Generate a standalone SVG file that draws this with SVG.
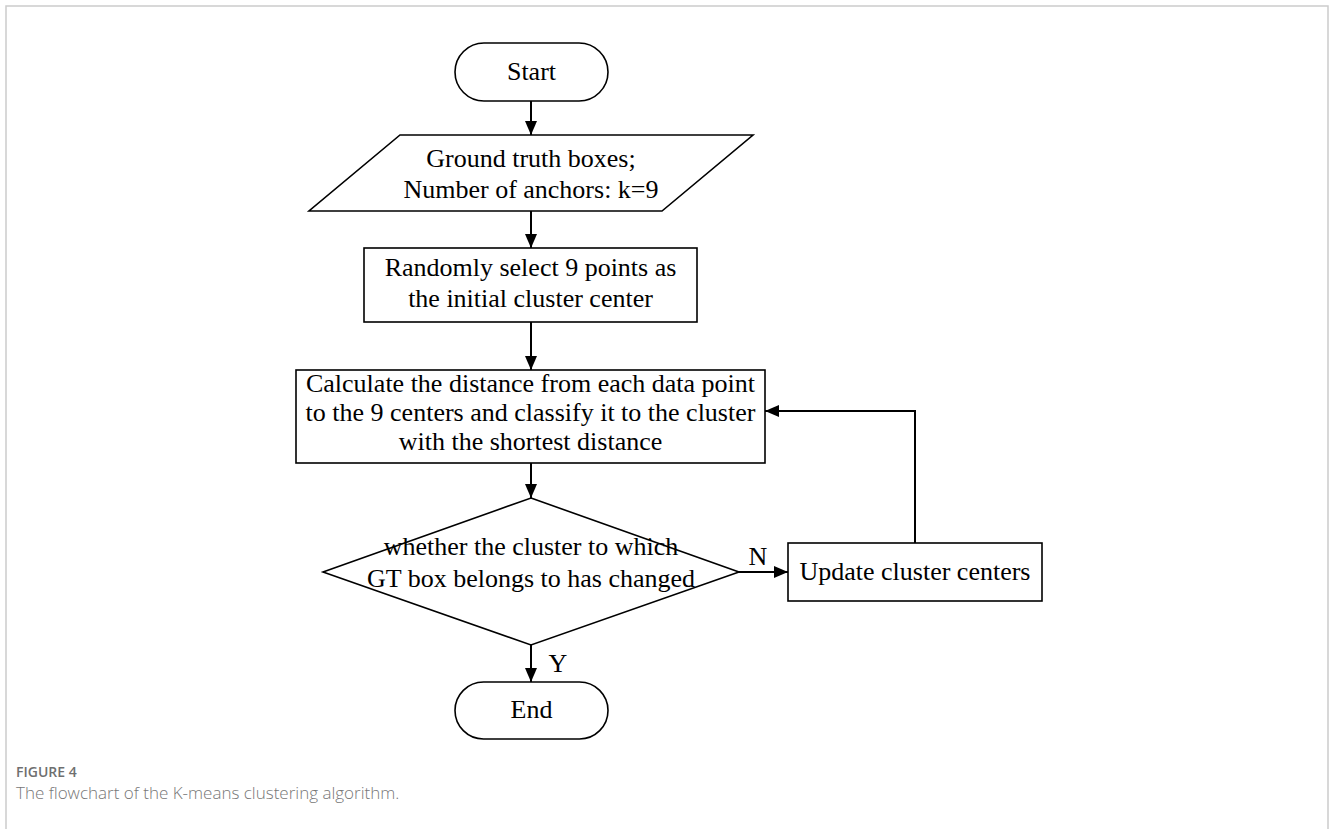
<svg xmlns="http://www.w3.org/2000/svg" width="1330" height="829" viewBox="0 0 1330 829">
<style>
.shape{fill:#fff;stroke:#000;stroke-width:1.6}
.t{font-family:"Liberation Serif","Times New Roman",serif;font-size:26px;fill:#000;text-anchor:middle}
.conn{fill:none;stroke:#000;stroke-width:2}
.cap1{font-family:"Open Sans","Noto Sans",sans-serif;font-size:14px;font-weight:600;fill:#6f6f6f}
.cap2{font-family:"Open Sans","Noto Sans",sans-serif;font-size:17px;font-weight:300;fill:#777}
</style>
<defs>
<marker id="arr" markerUnits="userSpaceOnUse" markerWidth="14" markerHeight="12" refX="14" refY="6" orient="auto">
<path d="M0,0 L14,6 L0,12 z" fill="#000"/>
</marker>
</defs>
<rect x="0" y="0" width="1330" height="829" fill="#fff"/>
<path d="M6,900 L6,6 L1328,6 L1328,900" fill="none" stroke="#cccccc" stroke-width="1.5"/>

<g id="connectors">
<line class="conn" x1="531" y1="101" x2="531" y2="135" marker-end="url(#arr)"/>
<line class="conn" x1="531" y1="211" x2="531" y2="248" marker-end="url(#arr)"/>
<line class="conn" x1="531" y1="322" x2="531" y2="370" marker-end="url(#arr)"/>
<line class="conn" x1="531" y1="463" x2="531" y2="498" marker-end="url(#arr)"/>
<line class="conn" x1="531" y1="645" x2="531" y2="682" marker-end="url(#arr)"/>
<line class="conn" x1="739" y1="572" x2="788" y2="572" marker-end="url(#arr)"/>
<polyline class="conn" points="915,543 915,411 765,411" marker-end="url(#arr)"/>
<text class="t" x="758" y="565">N</text>
<text class="t" x="558" y="672">Y</text>
</g>

<g id="start">
<rect class="shape" x="455" y="43" width="153" height="58" rx="29" ry="29"/>
<text class="t" x="531.5" y="80">Start</text>
</g>

<g id="input">
<polygon class="shape" points="400,135 753,135 662,211 309,211"/>
<text class="t" x="531" y="167">Ground truth boxes;</text>
<text class="t" x="531" y="198">Number of anchors: k=9</text>
</g>

<g id="init">
<rect class="shape" x="364" y="248" width="333" height="74"/>
<text class="t" x="530.5" y="276">Randomly select 9 points as</text>
<text class="t" x="530.5" y="307">the initial cluster center</text>
</g>

<g id="assign">
<rect class="shape" x="296" y="370" width="469" height="93"/>
<text class="t" x="530.5" y="392">Calculate the distance from each data point</text>
<text class="t" x="530.5" y="421">to the 9 centers and classify it to the cluster</text>
<text class="t" x="530.5" y="450">with the shortest distance</text>
</g>

<g id="decision">
<polygon class="shape" points="531,498 739,572 531,645 323,572"/>
<text class="t" x="531" y="555">whether the cluster to which</text>
<text class="t" x="531" y="587">GT box belongs to has changed</text>
</g>

<g id="update">
<rect class="shape" x="788" y="543" width="254" height="58"/>
<text class="t" x="915" y="580">Update cluster centers</text>
</g>

<g id="end">
<rect class="shape" x="455" y="682" width="153" height="57" rx="28.5" ry="28.5"/>
<text class="t" x="531.5" y="718">End</text>
</g>

<g id="caption">
<text class="cap1" x="16" y="777">FIGURE 4</text>
<text class="cap2" x="16" y="799">The flowchart of the K-means clustering algorithm.</text>
</g>
</svg>
